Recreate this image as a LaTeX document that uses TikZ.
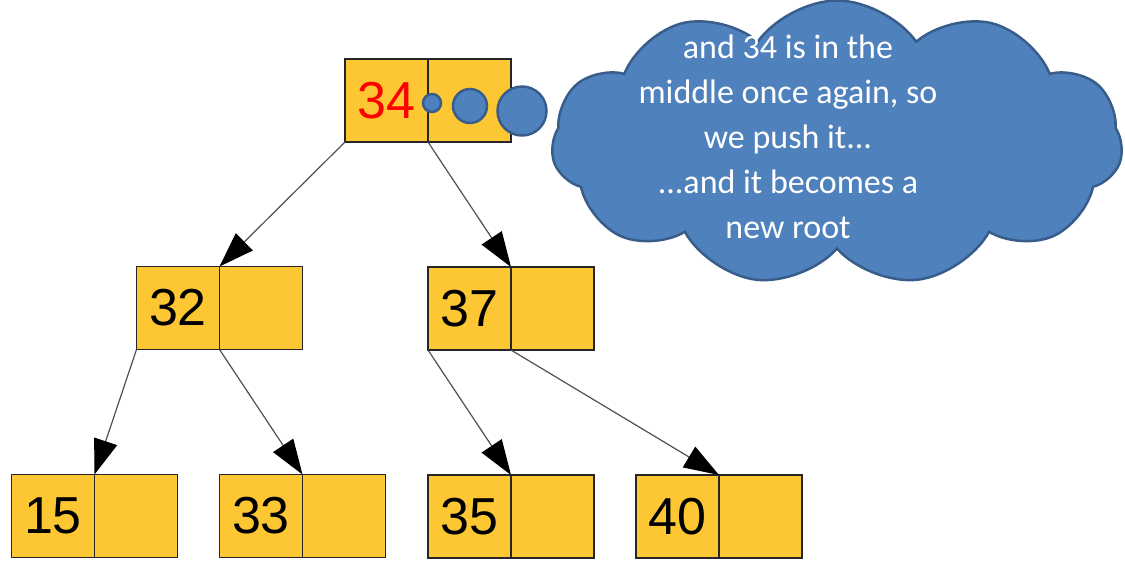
\documentclass[tikz,border=0pt]{standalone}
\usepackage{fontspec}
\setmainfont{Liberation Sans}
\newfontfamily\bubblefont{Carlito}
\usepackage{xcolor}
\usetikzlibrary{shapes.geometric, shapes.symbols, arrows.meta, positioning, calc}

\definecolor{keyyellow}{HTML}{FCC733}
\definecolor{bubbleblue}{HTML}{4F81BD}
\definecolor{bubbleedge}{HTML}{385D8A}
\definecolor{linkgray}{HTML}{505050}

\begin{document}
\begin{tikzpicture}[
    x=1pt, y=1pt,
    cellbox/.style={rectangle, draw=black!85, line width=1.4pt, fill=keyyellow,
        minimum width=83pt, minimum height=83pt, inner sep=0pt, outer sep=0pt,
        font=\fontsize{52}{60}\selectfont},
    link/.style={draw=linkgray, line width=1.2pt,
        -{Triangle[black, width=24pt, length=35pt]}},
    puff/.style={circle, fill=bubbleblue, draw=bubbleedge, line width=2.5pt, inner sep=0pt}
]
\useasboundingbox (0,0) rectangle (1125,-566);

% root
\node[cellbox, text=red] (n34) at (386.5,-100.5) {34};
\node[cellbox, right=0pt of n34] (n34r) {};

% second level
\node[cellbox] (n32) at (178,-308) {32};
\node[cellbox, right=0pt of n32] (n32r) {};
\node[cellbox, below=125pt of n34r] (n37) {37};
\node[cellbox, right=0pt of n37] (n37r) {};

% leaves
\node[cellbox, below=125pt of n32r] (n33) {33};
\node[cellbox, right=0pt of n33] (n33r) {};
\node[cellbox, left=42pt of n33] (n15r) {};
\node[cellbox, left=0pt of n15r] (n15) {15};
\node[cellbox, below=125pt of n37] (n35) {35};
\node[cellbox, right=0pt of n35] (n35r) {};
\node[cellbox, right=42pt of n35r] (n40) {40};
\node[cellbox, right=0pt of n40] (n40r) {};

\draw[link] (n34.south west) -- (n32.north east);
\draw[link] (n34.south east) -- (n37.north east);
\draw[link] (n32.south west) -- (n15.north east);
\draw[link] (n32.south east) -- (n33.north east);
\draw[link] (n37.south west) -- (n35.north east);
\draw[link] (n37.south east) -- (n40.north east);

% thought bubble
\node[puff, minimum size=18pt] (p1) at (432,-103) {};
\node[puff, minimum size=34pt] (p2) at (470,-106) {};
\node[puff, minimum size=49pt] (p3) at (522,-111) {};
\node[cloud, cloud puffs=11, cloud puff arc=110, aspect=2, fill=bubbleblue,
    draw=bubbleedge, line width=2.5pt, minimum width=571pt, minimum height=285pt,
    inner sep=0pt] (thought) at (837,-143) {};
\node[text=white, align=center, font=\bubblefont\fontsize{34}{45}\selectfont]
    (words) at (788,-137) {and 34 is in the\\middle once again, so\\we push it...\\...and it becomes a\\new root};
\end{tikzpicture}
\end{document}
